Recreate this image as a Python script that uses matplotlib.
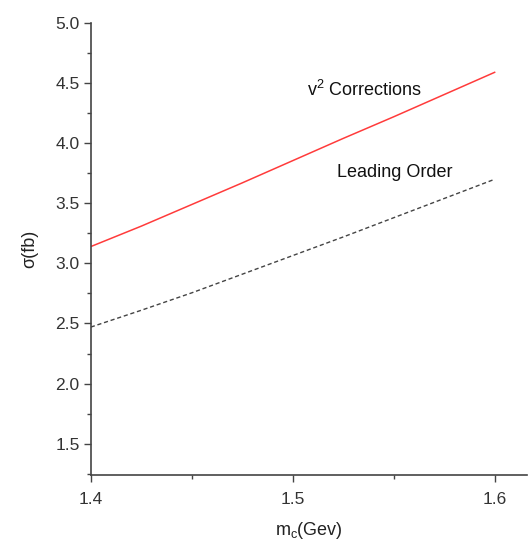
import matplotlib
matplotlib.use("Agg")
import matplotlib.pyplot as plt
from matplotlib.ticker import MultipleLocator

plt.rcParams['font.family'] = ['Liberation Sans', 'DejaVu Sans']

# charm quark mass (GeV) and cross sections (fb)
mc = [1.4, 1.425, 1.45, 1.475, 1.5, 1.525, 1.55, 1.575, 1.6]
sigma_v2 = [3.14, 3.31, 3.49, 3.67, 3.855, 4.04, 4.22, 4.405, 4.59]
sigma_lo = [2.47, 2.61, 2.755, 2.91, 3.065, 3.22, 3.38, 3.54, 3.70]

fig = plt.figure(figsize=(5.28, 5.49), dpi=100)
ax = fig.add_axes([0.172, 0.135, 0.826, 0.823])

ax.plot(mc, sigma_v2, color='#ff3b3b', lw=1.1)
ax.plot(mc, sigma_lo, color='#444444', lw=1.0, ls=(0, (3, 2)))

ax.set_xlim(1.4, 1.616)
ax.set_ylim(1.24, 5.0)
ax.xaxis.set_major_locator(MultipleLocator(0.1))
ax.xaxis.set_minor_locator(MultipleLocator(0.05))
ax.yaxis.set_major_locator(MultipleLocator(0.5))
ax.yaxis.set_minor_locator(MultipleLocator(0.25))
ax.set_xticks([1.4, 1.5, 1.6])
ax.set_xticklabels(['1.4', '1.5', '1.6'])

for s in ['top', 'right']:
    ax.spines[s].set_visible(False)
for s in ['left', 'bottom']:
    ax.spines[s].set_color('#444444')
    ax.spines[s].set_linewidth(1.2)

ax.tick_params(which='major', direction='out', length=5, width=1, color='#444444',
               labelsize=12.5, labelcolor='#333333', pad=3)
ax.tick_params(which='minor', direction='out', length=3, width=1, color='#444444')
ax.tick_params(axis='x', which='major', pad=7)

ax.set_ylabel('σ(fb)', fontsize=13, color='#222222', labelpad=12)
ax.set_xlabel(r'm$_\mathregular{c}$(Gev)', fontsize=13, color='#222222', labelpad=10)

ax.text(1.507, 4.44, r'v$^\mathregular{2}$ Corrections', fontsize=13, color='#111111',
        va='center')
ax.text(1.522, 3.76, 'Leading Order', fontsize=13, color='#111111', va='center')

fig.savefig('out.png', dpi=100)
